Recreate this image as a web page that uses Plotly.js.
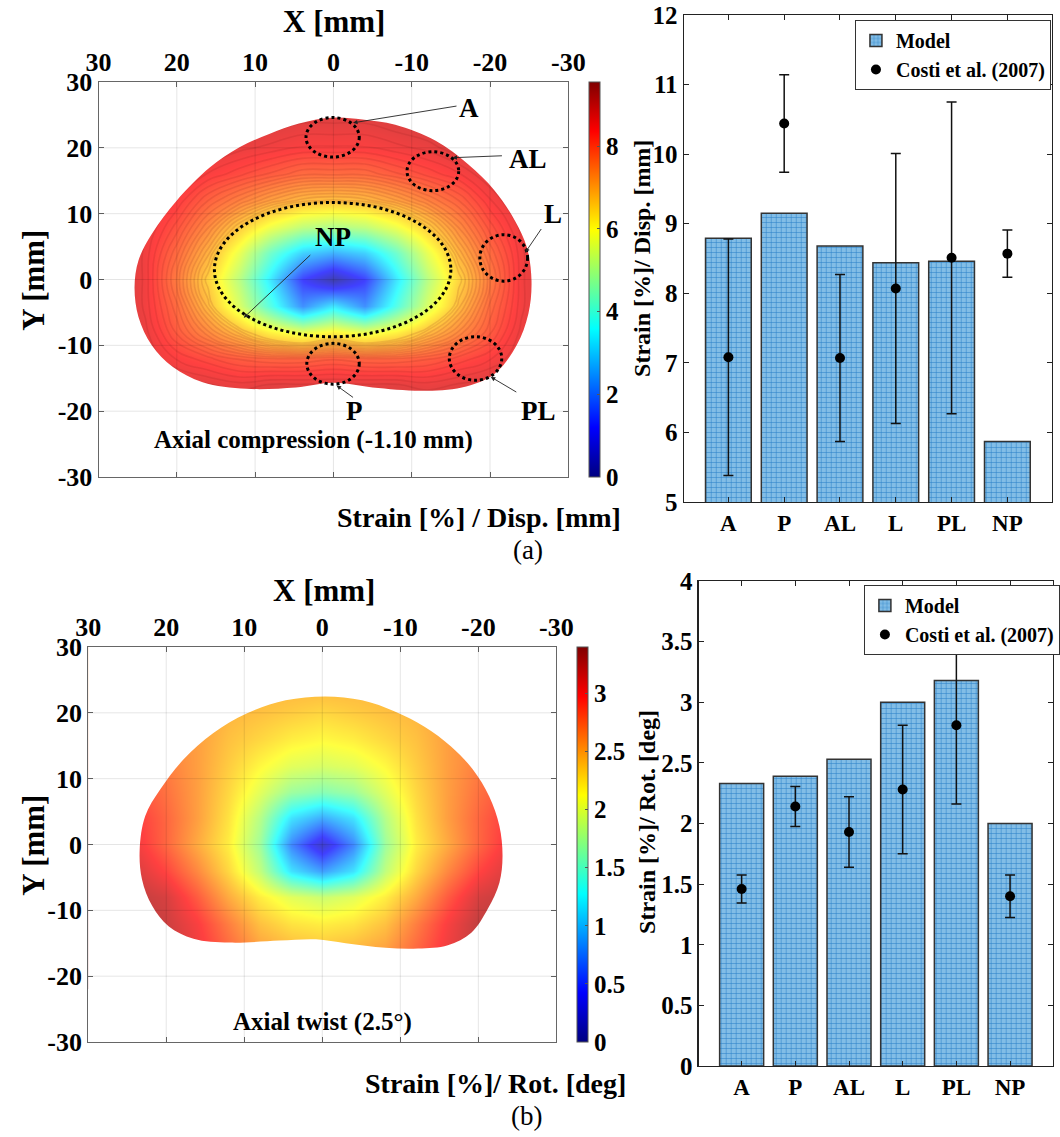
<!DOCTYPE html>
<html>
<head>
<meta charset="utf-8">
<script src="https://cdn.plot.ly/plotly-3.0.1.min.js"></script>
<style>html,body{margin:0;padding:0;background:#fff;}#chart{width:1060px;height:1137px;}</style>
</head>
<body>
<div id="chart"></div>
<script>
// ---------- DATA ----------
const mapX = [-28,-24,-20,-16,-12,-8,-4,0,4,8,12,16,20,24,28];
const mapY = [-20,-16,-12,-8,-4,0,4,8,12,16,20,24,28];
// strain field, axial compression (rows = mapY, cols = mapX)
const strainCompression = [
  [9,9,9,9,9,9,9,9,9,9,9,9,9,9,9],
  [9,9,8.8,8.7,8.6,8.7,8.7,8.7,8.7,8.7,8.6,8.7,8.8,9,9],
  [9,8.7,8.4,8.2,8.0,7.9,7.9,8.0,7.9,7.9,8.0,8.2,8.4,8.7,9],
  [9,8.6,8.0,7.4,6.8,6.1,5.7,6.1,5.7,6.1,6.8,7.4,8.0,8.6,9],
  [9,8.5,7.8,6.8,5.5,3.9,2.2,3.3,2.2,3.9,5.5,6.8,7.8,8.5,9],
  [9,8.5,7.6,6.5,5.1,3.3,1.2,0.2,1.2,3.3,5.1,6.5,7.6,8.5,9],
  [9,8.5,7.8,6.9,5.7,4.2,3.0,2.6,3.0,4.2,5.7,6.9,7.8,8.5,9],
  [9,8.6,8.1,7.4,6.6,5.8,5.2,5.0,5.2,5.8,6.6,7.4,8.1,8.6,9],
  [9,8.8,8.4,7.9,7.5,7.1,6.8,6.7,6.8,7.1,7.5,7.9,8.4,8.8,9],
  [9,9,8.7,8.4,8.2,8.0,7.8,7.8,7.8,8.0,8.2,8.4,8.7,9,9],
  [9,9,9,8.8,8.6,8.5,8.4,8.4,8.4,8.5,8.6,8.8,9,9,9],
  [9,9,9,9,8.9,8.8,8.7,8.7,8.7,8.8,8.9,9,9,9,9],
  [9,9,9,9,9,9,9,9,9,9,9,9,9,9,9]
];
// strain field, axial twist
const strainTwist = [
  [3.3,3.3,3.3,3.1,2.8,2.6,2.5,2.5,2.5,2.6,2.8,3.1,3.3,3.3,3.3],
  [3.3,3.3,3.25,3.05,2.8,2.55,2.45,2.4,2.45,2.55,2.8,3.05,3.25,3.3,3.3],
  [3.3,3.3,3.25,3.0,2.7,2.4,2.25,2.2,2.25,2.4,2.7,3.0,3.2,3.3,3.3],
  [3.25,3.25,3.15,2.85,2.5,2.2,2.0,1.9,2.0,2.2,2.5,2.85,3.15,3.25,3.25],
  [3.15,3.15,2.95,2.65,2.3,1.85,1.15,0.85,1.15,1.85,2.3,2.65,2.95,3.15,3.15],
  [3.1,3.05,2.8,2.5,2.2,1.7,0.75,0.2,0.75,1.7,2.2,2.5,2.8,3.05,3.1],
  [3.0,3.0,2.8,2.55,2.25,1.8,1.15,0.9,1.15,1.8,2.25,2.55,2.8,3.0,3.0],
  [2.9,2.9,2.75,2.55,2.3,2.0,1.7,1.6,1.7,2.0,2.3,2.55,2.75,2.9,2.9],
  [2.8,2.8,2.7,2.55,2.35,2.15,2.0,1.95,2.0,2.15,2.35,2.55,2.7,2.8,2.8],
  [2.7,2.7,2.65,2.55,2.4,2.3,2.2,2.15,2.2,2.3,2.4,2.55,2.65,2.7,2.7],
  [2.65,2.65,2.6,2.55,2.45,2.4,2.35,2.3,2.35,2.4,2.45,2.55,2.6,2.65,2.65],
  [2.6,2.6,2.6,2.55,2.5,2.45,2.45,2.45,2.45,2.45,2.5,2.55,2.6,2.6,2.6],
  [2.6,2.6,2.6,2.6,2.6,2.6,2.6,2.6,2.6,2.6,2.6,2.6,2.6,2.6,2.6]
];
// disc outlines (mm)
const outlineCompX = [0,4.4,8.2,12.0,15.8,20.0,23.2,24.9,25.4,24.9,23.2,20.5,16.7,11.1,4.8,0,-5.0,-11.3,-16.4,-20.6,-23.4,-24.9,-25.3,-24.7,-23.2,-20.6,-17.2,-13.0,-7.9,-3.7];
const outlineCompY = [24.6,23.7,22.1,20.1,17.0,12.0,6.9,2.9,-1.2,-5.7,-10.0,-13.3,-15.6,-16.6,-16.4,-15.7,-16.4,-16.9,-16.4,-14.3,-10.0,-5.2,-0.2,4.9,8.9,13.5,17.5,21.1,23.5,24.3];
const outlineTwistX = [-0.4,4.7,9.7,14.0,17.8,20.8,22.7,23.4,23.1,21.8,19.7,16.5,11.9,5.5,0.8,-3.0,-8.1,-12.3,-16.1,-19.1,-21.2,-22.7,-23.1,-22.7,-21.4,-19.3,-16.5,-13.1,-9.3,-5.1];
const outlineTwistY = [22.5,21.9,19.9,16.9,12.9,8.3,4.3,-0.8,-5.3,-9.3,-12.4,-14.3,-14.9,-14.6,-14.4,-15.0,-15.7,-15.8,-15.3,-13.4,-9.8,-5.8,-1.8,2.8,7.3,11.4,14.9,17.9,20.2,21.9];
const mapTicks = [30,20,10,0,-10,-20,-30];
const maskExtent = 31;

const regions = ['A','P','AL','L','PL','NP'];
const modelCompression = [8.79,9.15,8.68,8.44,8.46,5.87];
const costiCompression = [7.08,10.44,7.07,8.07,8.51,8.57];
const costiCompressionSD = [1.70,0.70,1.20,1.94,2.24,0.34];
const modelTwist = [2.33,2.39,2.53,3.00,3.18,2.00];
const costiTwist = [1.46,2.14,1.93,2.28,2.81,1.40];
const costiTwistSD = [0.115,0.165,0.29,0.53,0.65,0.175];
const compTicks = [0,2,4,6,8];
const twistTicks = [0,0.5,1,1.5,2,2.5,3];
const compBarTicks = [5,6,7,8,9,10,11,12];
const twistBarTicks = [0,0.5,1,1.5,2,2.5,3,3.5,4];

// ---------- STYLE ----------
const FONT = 'Liberation Serif, Times New Roman, serif';
const W = 1060, H = 1137;
const px = v => v / W, py = v => 1 - v / H;
const jet = [[0,'rgb(0,0,128)'],[0.125,'rgb(0,0,255)'],[0.375,'rgb(0,255,255)'],[0.625,'rgb(255,255,0)'],[0.875,'rgb(255,0,0)'],[1,'rgb(128,0,0)']];
const bf = (size) => ({family:FONT, size:size, color:'black', weight:700});

function maskTraces(ox, oy, xa, ya) {
  const e = maskExtent;
  // frame loop (counter-clockwise on screen) followed by disc outline; fill between them
  return [
    {type:'scatter', mode:'lines', x:[e,e,-e,-e,e], y:[e,-e,-e,e,e], xaxis:xa, yaxis:ya,
     line:{width:0, color:'rgba(0,0,0,0)'}, hoverinfo:'skip', showlegend:false},
    {type:'scatter', mode:'lines', x:ox.concat([ox[0]]), y:oy.concat([oy[0]]), xaxis:xa, yaxis:ya,
     fill:'tonext', fillcolor:'white', line:{width:0, color:'rgba(0,0,0,0)', shape:'spline', smoothing:1},
     hoverinfo:'skip', showlegend:false}
  ];
}
function gridShapes(xr, yr) {
  const s = [];
  mapTicks.slice(1, -1).forEach(t => {
    s.push({type:'line', xref:xr, yref:yr, x0:t, x1:t, y0:-30, y1:30, layer:'above', line:{color:'rgba(0,0,0,0.1)', width:1}});
    s.push({type:'line', xref:xr, yref:yr, x0:-30, x1:30, y0:t, y1:t, layer:'above', line:{color:'rgba(0,0,0,0.1)', width:1}});
  });
  return s;
}
function cbar(xpix, ticks) {
  return {x:px(xpix), xanchor:'left', y:py(477), yanchor:'bottom', len:395/H, lenmode:'fraction',
          thickness:11, thicknessmode:'pixels', xpad:0, ypad:0, outlinewidth:1, outlinecolor:'#555',
          tickvals:ticks, ticktext:ticks.map(String), ticks:'inside', ticklen:3, tickcolor:'#555', tickfont:bf(25)};
}

const cb1 = cbar(592, compTicks);
const cb2 = cbar(580, twistTicks); cb2.y = py(1042);

const barMarker = {color:'#82bde6', line:{color:'#333', width:1.5},
  pattern:{shape:'+', fgcolor:'#2a80c8', bgcolor:'#82bde6', size:5, solidity:0.2, fillmode:'replace'}};

const traces = [
  {type:'heatmap', x:mapX, y:mapY, z:strainCompression, xaxis:'x', yaxis:'y', zsmooth:'best',
   colorscale:jet, zmin:0, zmax:9.55, opacity:0.75, hoverinfo:'skip', showlegend:false, colorbar:cb1},
  {type:'contour', x:mapX, y:mapY, z:strainCompression, xaxis:'x', yaxis:'y', showscale:false, showlegend:false,
   contours:{coloring:'none', start:6.6, end:8.95, size:0.13},
   line:{color:'rgba(120,20,20,0.13)', width:1.6, smoothing:1.3}, hoverinfo:'skip'}
].concat(maskTraces(outlineCompX, outlineCompY, 'x', 'y'), [
  {type:'heatmap', x:mapX, y:mapY, z:strainTwist, xaxis:'x3', yaxis:'y3', zsmooth:'best',
   colorscale:jet, zmin:0, zmax:3.4, opacity:0.75, hoverinfo:'skip', showlegend:false, colorbar:cb2}
], maskTraces(outlineTwistX, outlineTwistY, 'x3', 'y3'), [
  {type:'bar', x:regions, y:modelCompression, xaxis:'x2', yaxis:'y2', name:'Model', legend:'legend',
   marker:barMarker, hoverinfo:'skip'},
  {type:'scatter', mode:'markers', x:regions, y:costiCompression, xaxis:'x2', yaxis:'y2', name:'Costi et al. (2007)', legend:'legend',
   marker:{color:'black', size:10},
   error_y:{type:'data', array:costiCompressionSD, visible:true, color:'#111', thickness:1.5, width:5},
   hoverinfo:'skip'},
  {type:'bar', x:regions, y:modelTwist, xaxis:'x4', yaxis:'y4', name:'Model', legend:'legend2',
   marker:barMarker, hoverinfo:'skip'},
  {type:'scatter', mode:'markers', x:regions, y:costiTwist, xaxis:'x4', yaxis:'y4', name:'Costi et al. (2007)', legend:'legend2',
   marker:{color:'black', size:10},
   error_y:{type:'data', array:costiTwistSD, visible:true, color:'#111', thickness:1.5, width:5},
   hoverinfo:'skip'}
]);

function mapAxisX(dom, anchor) {
  return {domain:dom, anchor:anchor, side:'top', range:[30,-30], tickvals:mapTicks, ticktext:mapTicks.map(String),
          ticks:'inside', ticklen:5, tickcolor:'#666', mirror:'ticks', showline:true, linecolor:'#666', linewidth:1,
          showgrid:false, zeroline:false, tickfont:bf(26), fixedrange:true};
}
function mapAxisY(dom, anchor) {
  return {domain:dom, anchor:anchor, range:[-30,30], tickvals:mapTicks, ticktext:mapTicks.map(String),
          ticks:'inside', ticklen:5, tickcolor:'#666', mirror:'ticks', showline:true, linecolor:'#666', linewidth:1,
          showgrid:false, zeroline:false, tickfont:bf(26), fixedrange:true};
}
function barAxisX(dom, anchor) {
  return {domain:dom, anchor:anchor, type:'category', range:[-0.8,5.8], ticks:'inside', ticklen:5,
          tickcolor:'#222', mirror:'ticks', showline:true, linecolor:'#222', linewidth:1.2, showgrid:false,
          tickfont:bf(23), fixedrange:true};
}
function barAxisY(dom, anchor, range, ticks) {
  return {domain:dom, anchor:anchor, range:range, tickvals:ticks, ticktext:ticks.map(String), ticks:'inside', ticklen:5,
          tickcolor:'#222', mirror:'ticks', showline:true, linecolor:'#222', linewidth:1.2, showgrid:false,
          zeroline:false, tickfont:bf(25), fixedrange:true};
}

function label(text, x, y, xr, yr, font, extra) {
  return Object.assign({text:text, x:x, y:y, xref:xr, yref:yr, xanchor:'center', yanchor:'middle',
                        showarrow:false, font:font || bf(27)}, extra || {});
}
function arrow(x, y, ax, ay) {
  return {text:'', x:x, y:y, xref:'x', yref:'y', ax:ax, ay:ay, showarrow:true, arrowhead:2,
          arrowsize:1, arrowwidth:0.9, arrowcolor:'#222', standoff:0, startstandoff:0};
}
const annotations = [
  label('X [mm]', px(336), py(21), 'paper', 'paper', bf(31)),
  label('Y [mm]', px(33), py(280), 'paper', 'paper', bf(31), {textangle:-90}),
  label('X [mm]', px(326), py(590), 'paper', 'paper', bf(31)),
  label('Y [mm]', px(33), py(845), 'paper', 'paper', bf(31), {textangle:-90}),
  label('Strain [%] / Disp. [mm]', px(626), py(517), 'paper', 'paper', bf(28), {xanchor:'right'}),
  label('Strain [%]/ Rot. [deg]', px(631), py(1083), 'paper', 'paper', bf(28), {xanchor:'right'}),
  label('(a)', px(530), py(550), 'paper', 'paper', {family:FONT, size:27, color:'black'}),
  label('(b)', px(529), py(1116), 'paper', 'paper', {family:FONT, size:27, color:'black'}),
  label('Strain [%]/ Disp. [mm]', px(645), py(258), 'paper', 'paper', bf(24), {textangle:-90}),
  label('Strain [%]/ Rot. [deg]', px(650), py(822), 'paper', 'paper', bf(24), {textangle:-90}),
  label('A', -17.3, 26.1, 'x', 'y'),
  label('AL', -24.8, 18.3, 'x', 'y'),
  label('L', -28.1, 10.0, 'x', 'y'),
  label('NP', 0, 6.4, 'x', 'y'),
  label('P', -2.7, -20.0, 'x', 'y'),
  label('PL', -26.2, -20.0, 'x', 'y'),
  label('Axial compression (-1.10 mm)', 2.5, -24.4, 'x', 'y', bf(25)),
  label('Axial twist (2.5°)', 0, -26.9, 'x3', 'y3', bf(25)),
  arrow(-2.5, 23.8, 105, -17),
  arrow(-15.2, 18.5, 51, -2),
  arrow(-24.5, 4.1, 17, -25),
  arrow(11.45, -5.8, 68, -64),
  arrow(-0.4, -16.1, 18, 13),
  arrow(-20.1, -14.8, 27, 16)
];

function dotted(x0, x1, y0, y1) {
  return {type:'circle', xref:'x', yref:'y', x0:x0, x1:x1, y0:y0, y1:y1, layer:'above',
          line:{color:'black', width:3, dash:'dot'}};
}
const shapes = gridShapes('x', 'y').concat(gridShapes('x3', 'y3'), [
  dotted(3.5, -3.3, 18.6, 24.6),
  dotted(-9.4, -16.0, 13.5, 19.4),
  dotted(-18.7, -24.8, -0.25, 6.8),
  dotted(15.2, -15.0, -8.7, 11.7),
  dotted(3.4, -3.3, -15.9, -9.7),
  dotted(-14.8, -21.5, -15.3, -8.7)
]);

const legendStyle = {xanchor:'left', yanchor:'top', bgcolor:'white', bordercolor:'#333', borderwidth:1,
  font:bf(20), itemwidth:30, tracegroupgap:0};

const layout = {
  width:W, height:H, margin:{l:0, r:0, t:0, b:0}, paper_bgcolor:'white', plot_bgcolor:'white',
  font:{family:FONT, color:'black'}, hovermode:false, barmode:'group', bargap:0.18,
  xaxis: mapAxisX([px(99), px(571)], 'y'),
  yaxis: mapAxisY([py(477), py(82)], 'x'),
  xaxis2: barAxisX([px(687), px(1057)], 'y2'),
  yaxis2: barAxisY([py(502), py(15)], 'x2', [5,12], compBarTicks),
  xaxis3: mapAxisX([px(88.6), px(559)], 'y3'),
  yaxis3: mapAxisY([py(1042), py(647)], 'x3'),
  xaxis4: barAxisX([px(702), px(1058)], 'y4'),
  yaxis4: barAxisY([py(1066), py(581)], 'x4', [0,4], twistBarTicks),
  legend: Object.assign({x:px(859), y:py(20)}, legendStyle),
  legend2: Object.assign({x:px(868), y:py(585)}, legendStyle),
  annotations: annotations,
  shapes: shapes
};

Plotly.newPlot('chart', traces, layout, {displayModeBar:false, staticPlot:true});
</script>
</body>
</html>
